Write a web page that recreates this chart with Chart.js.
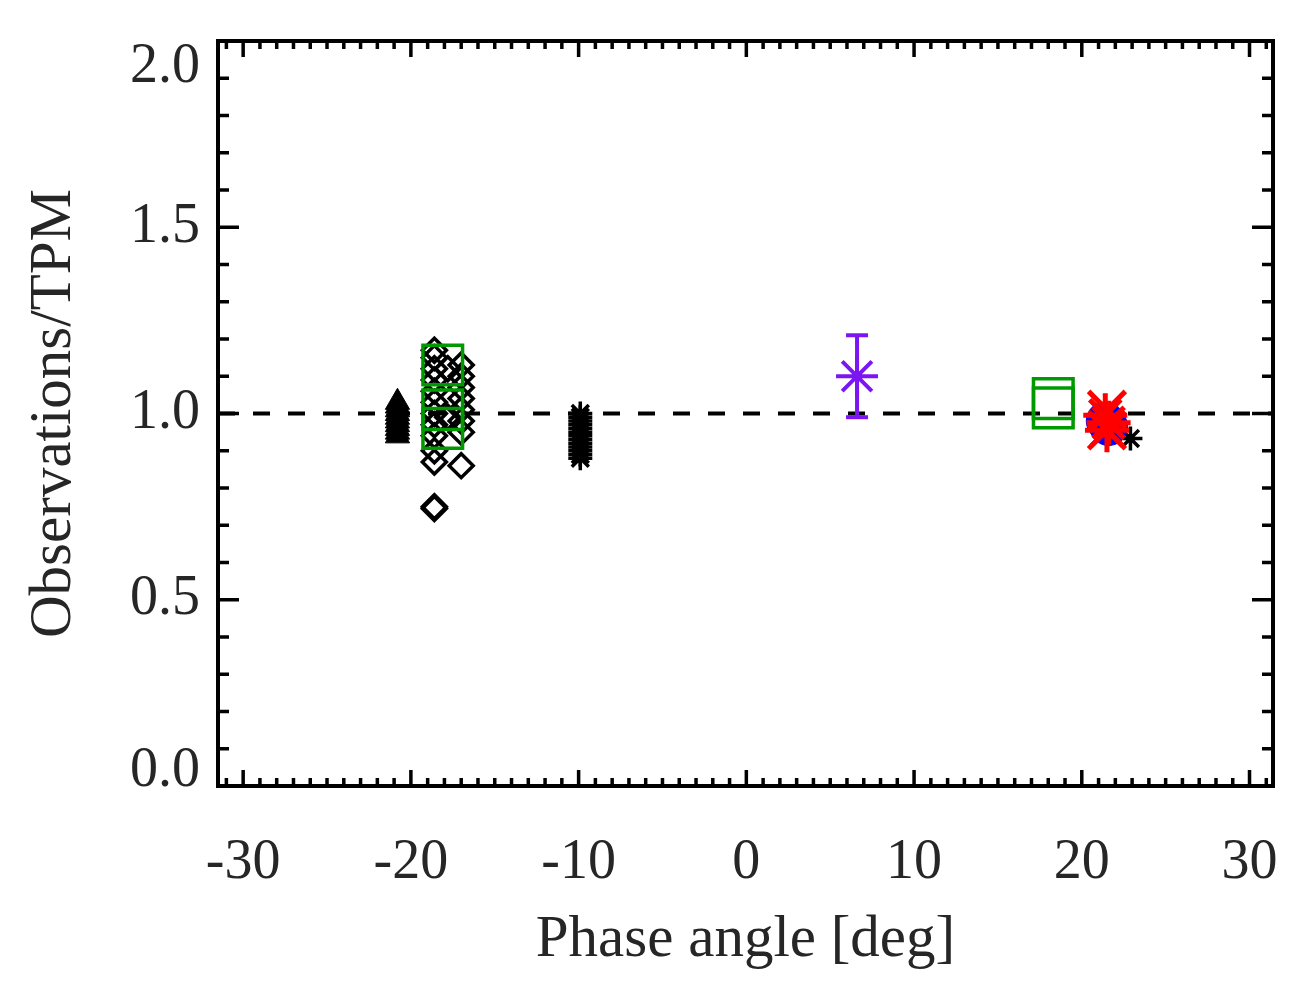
<!DOCTYPE html>
<html>
<head>
<meta charset="utf-8">
<script src="https://cdn.jsdelivr.net/npm/chart.js@4.4.1/dist/chart.umd.min.js"></script>
<style>
  body { margin: 0; background: #fff; }
  #wrap { width: 1308px; height: 998px; }
</style>
</head>
<body>
<div id="wrap"><canvas id="chart" width="1308" height="998"></canvas></div>
<script>
// values: phase angle [deg] vs observations/TPM
var xTicks = [-30, -20, -10, 0, 10, 20, 30];
var yTicks = [0.0, 0.5, 1.0, 1.5, 2.0];

var triX = [-20.8, -20.8, -20.8, -20.8, -20.8, -20.8, -20.8, -20.8, -20.8, -20.8];
var triY = [0.94, 0.95, 0.96, 0.97, 0.98, 0.99, 1.00, 1.01, 1.02, 1.03];

var diaX = [-18.6, -18.6, -18.6, -18.6, -18.6, -18.6, -18.6, -18.6, -18.6, -18.6, -18.6, -18.6, -18.6,
            -17.0, -17.0, -17.0, -17.0, -17.0, -17.0, -17.0, -17.0,
            -17.8, -17.8];
var diaY = [1.17, 1.15, 1.12, 1.09, 1.06, 1.03, 1.00, 0.97, 0.94, 0.90, 0.87, 0.75, 0.745,
            1.13, 1.10, 1.07, 1.04, 1.01, 0.98, 0.95, 0.86,
            1.12, 0.99];

var sqX = [-18.1, -18.1, -18.1, 18.3, 18.3];
var sqY = [1.13, 1.01, 0.96, 1.04, 1.015];

var starX = [-9.9, -9.9, -9.9, -9.9, -9.9, -9.9, -9.9, -9.9, -9.9, -9.9, -9.9, -9.9, -9.9, 22.9];
var starY = [0.88, 0.89, 0.90, 0.91, 0.92, 0.93, 0.94, 0.95, 0.96, 0.97, 0.98, 0.99, 1.00, 0.933];

var purpleX = [6.6];
var purpleY = [1.10];
var purpleLow = [0.99];
var purpleHigh = [1.21];

var blueX = [21.4, 21.6];
var blueY = [0.98, 0.965];

var redStarX = [21.5, 21.6, 21.4];
var redStarY = [0.955, 0.975, 0.995];
var redCrossX = [21.5, 21.5];
var redCrossY = [1.01, 0.955];

function pts(xs, ys) {
    var out = [];
    for (var i = 0; i < xs.length; i++) {
        out.push({x: xs[i], y: ys[i]});
    }
    return out;
}

var serif = '"Liberation Serif", "DejaVu Serif", serif';
var textColor = '#262626';

// frame with inward ticks on all four sides, IDL style
var framePlugin = {
    id: 'frame',
    afterDraw: function(chart) {
        var ctx = chart.ctx;
        var a = chart.chartArea;
        var sx = chart.scales.x, sy = chart.scales.y;
        ctx.save();
        ctx.strokeStyle = '#000';
        ctx.lineWidth = 4;
        ctx.lineCap = 'butt';
        ctx.strokeRect(a.left, a.top, a.right - a.left, a.bottom - a.top);
        ctx.lineWidth = 3.5;
        ctx.beginPath();
        for (var v = -31; v <= 31; v++) {
            var px = sx.getPixelForValue(v);
            var len = (v % 10 === 0) ? 16 : 8;
            ctx.moveTo(px, a.bottom); ctx.lineTo(px, a.bottom - len);
            ctx.moveTo(px, a.top); ctx.lineTo(px, a.top + len);
        }
        for (var k = 0; k <= 20; k++) {
            var py = sy.getPixelForValue(k / 10);
            var l2 = (k % 5 === 0) ? 21 : 11;
            ctx.moveTo(a.left, py); ctx.lineTo(a.left + l2, py);
            ctx.moveTo(a.right, py); ctx.lineTo(a.right - l2, py);
        }
        ctx.stroke();
        ctx.restore();
    }
};

var graph = document.getElementById('chart');
var myChart = new Chart(graph, {
    type: 'scatter',
    data: {
        datasets: [
            {
                label: 'error',
                data: [{x: purpleX[0], y: purpleLow[0]}, {x: purpleX[0], y: purpleHigh[0]}],
                showLine: true,
                borderColor: '#7b16f2',
                borderWidth: 4,
                pointStyle: 'line',
                pointRadius: 11,
                pointBorderColor: '#7b16f2',
                pointBorderWidth: 4
            },
            {
                label: 'purple',
                data: pts(purpleX, purpleY),
                pointStyle: 'star',
                pointRadius: 21,
                pointBorderColor: '#7b16f2',
                pointBorderWidth: 4
            },
            {
                label: 'red cross',
                data: pts(redCrossX, redCrossY),
                pointStyle: 'crossRot',
                pointRadius: 26,
                pointBorderColor: '#ff0000',
                pointBorderWidth: 5
            },
            {
                label: 'red star',
                data: pts(redStarX, redStarY),
                pointStyle: 'star',
                pointRadius: 22,
                pointBorderColor: '#ff0000',
                pointBorderWidth: 5
            },
            {
                label: 'blue',
                data: pts(blueX, blueY),
                pointStyle: 'circle',
                pointRadius: 19,
                pointBackgroundColor: '#0000ff',
                pointBorderColor: '#0000ff',
                pointBorderWidth: 1
            },
            {
                label: 'squares',
                data: pts(sqX, sqY),
                pointStyle: 'rect',
                pointRadius: 28,
                pointBackgroundColor: 'rgba(0,0,0,0)',
                pointBorderColor: '#009900',
                pointBorderWidth: 3.5
            },
            {
                label: 'stars',
                data: pts(starX, starY),
                pointStyle: 'star',
                pointRadius: 12,
                pointBorderColor: '#000',
                pointBorderWidth: 3.5
            },
            {
                label: 'diamonds',
                data: pts(diaX, diaY),
                pointStyle: 'rectRot',
                pointRadius: 12,
                pointBackgroundColor: 'rgba(0,0,0,0)',
                pointBorderColor: '#000',
                pointBorderWidth: 3.5
            },
            {
                label: 'triangles',
                data: pts(triX, triY),
                pointStyle: 'triangle',
                pointRadius: 14,
                pointBackgroundColor: '#000',
                pointBorderColor: '#000',
                pointBorderWidth: 1
            },
            {
                label: 'ratio 1',
                data: [{x: -31.5, y: 1}, {x: 31.4, y: 1}],
                showLine: true,
                borderColor: '#000',
                borderWidth: 4,
                borderDash: [17, 18],
                pointRadius: 0
            }
        ]
    },
    options: {
        responsive: false,
        animation: false,
        events: [],
        layout: { padding: { top: 41, right: 35, left: 0, bottom: 0 } },
        plugins: {
            legend: { display: false },
            tooltip: { enabled: false }
        },
        scales: {
            x: {
                type: 'linear',
                min: -31.5,
                max: 31.4,
                afterFit: function(scale) {
                    scale.height = 212;
                    scale.paddingLeft = 0;
                    scale.paddingRight = 0;
                },
                afterBuildTicks: function(scale) {
                    scale.ticks = xTicks.map(function(v) { return {value: v}; });
                },
                grid: { display: false, drawTicks: false },
                border: { display: false },
                ticks: {
                    padding: 44,
                    color: textColor,
                    font: { family: serif, size: 56 },
                    maxRotation: 0,
                    callback: function(v) { return String(v); }
                },
                title: {
                    display: true,
                    text: 'Phase angle [deg]',
                    color: textColor,
                    font: { family: serif, size: 59, lineHeight: 1 },
                    padding: { top: 0, bottom: 28 }
                }
            },
            y: {
                type: 'linear',
                min: 0,
                max: 2.0,
                afterFit: function(scale) {
                    scale.width = 218;
                    scale.paddingTop = 0;
                    scale.paddingBottom = 0;
                },
                afterBuildTicks: function(scale) {
                    scale.ticks = yTicks.map(function(v) { return {value: v}; });
                },
                grid: { display: false, drawTicks: false },
                border: { display: false },
                ticks: {
                    padding: 18,
                    color: textColor,
                    font: function(c) {
                        var lh = 1.2;
                        if (c.tick && c.tick.value === 0) lh = 0.54;
                        if (c.tick && c.tick.value === 2) lh = 0.93;
                        return { family: serif, size: 56, lineHeight: lh };
                    },
                    callback: function(v) {
                        var s = v.toFixed(1);
                        if (v === 0) return [s, ''];
                        if (v === 2) return ['', s];
                        return s;
                    }
                },
                title: {
                    display: true,
                    text: 'Observations/TPM',
                    color: textColor,
                    font: { family: serif, size: 59, lineHeight: 1 },
                    padding: { top: 25, bottom: 0 }
                }
            }
        }
    },
    plugins: [framePlugin]
});
</script>
</body>
</html>
